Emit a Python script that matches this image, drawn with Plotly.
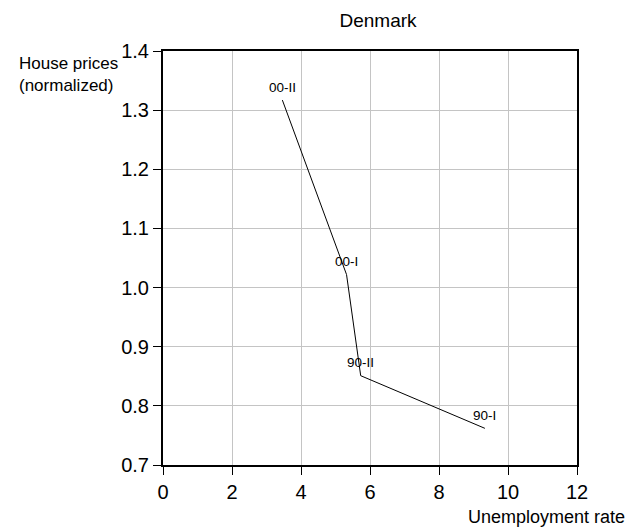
import plotly.graph_objects as go

# Data
periods = ["00-II", "00-I", "90-II", "90-I"]
unemployment = [3.46, 5.32, 5.73, 9.33]
house_prices = [1.317, 1.022, 0.851, 0.762]

x_ticks = [0, 2, 4, 6, 8, 10, 12]
y_ticks = [0.7, 0.8, 0.9, 1.0, 1.1, 1.2, 1.3, 1.4]

FONT = "Liberation Sans, Arial, sans-serif"

W, H = 626, 524
L, R, T, B = 155, 57, 43, 67
PW, PH = W - L - R, H - T - B

fig = go.Figure()
fig.add_trace(go.Scatter(
    x=unemployment, y=house_prices, mode="lines",
    line=dict(color="black", width=1), hoverinfo="skip", showlegend=False,
))

for p, xv, yv in zip(periods, unemployment, house_prices):
    fig.add_annotation(x=xv, y=yv, text=p, showarrow=False, yshift=13,
                       font=dict(family=FONT, size=13.5, color="black"))

fig.add_annotation(xref="paper", yref="paper", x=(9 - L) / PW, y=(H - B - 44) / PH, xanchor="left", yanchor="top",
                   text="House prices<br>(normalized)", showarrow=False, align="left",
                   font=dict(family=FONT, size=17, color="black"))
fig.add_annotation(xref="paper", yref="paper", x=(619 - L) / PW, y=(H - B - 509) / PH, xanchor="right", yanchor="middle",
                   text="Unemployment rate", showarrow=False,
                   font=dict(family=FONT, size=18, color="black"))

fig.update_layout(
    width=W, height=H,
    margin=dict(l=L, r=R, t=T, b=B),
    paper_bgcolor="white", plot_bgcolor="white",
    font=dict(family=FONT, color="black"),
    title=dict(text="Denmark", x=370 / W, xanchor="center", y=1 - 12 / H, yanchor="middle",
               font=dict(family=FONT, size=19, color="black")),
    xaxis=dict(range=[0, 12], tickvals=x_ticks, showgrid=True, gridcolor="#c4c4c4", gridwidth=1,
               showline=True, linecolor="black", linewidth=2, mirror=True,
               ticks="outside", ticklen=8, tickcolor="black", tickwidth=1,
               tickfont=dict(family=FONT, size=20, color="black"), zeroline=False),
    yaxis=dict(range=[0.7, 1.4], tickvals=y_ticks, tickformat=".1f", showgrid=True, gridcolor="#c4c4c4", gridwidth=1,
               showline=True, linecolor="black", linewidth=2, mirror=True,
               ticks="outside", ticklen=8, tickcolor="black", tickwidth=1,
               tickfont=dict(family=FONT, size=20, color="black"), zeroline=False),
)

fig.write_html("out.html")
